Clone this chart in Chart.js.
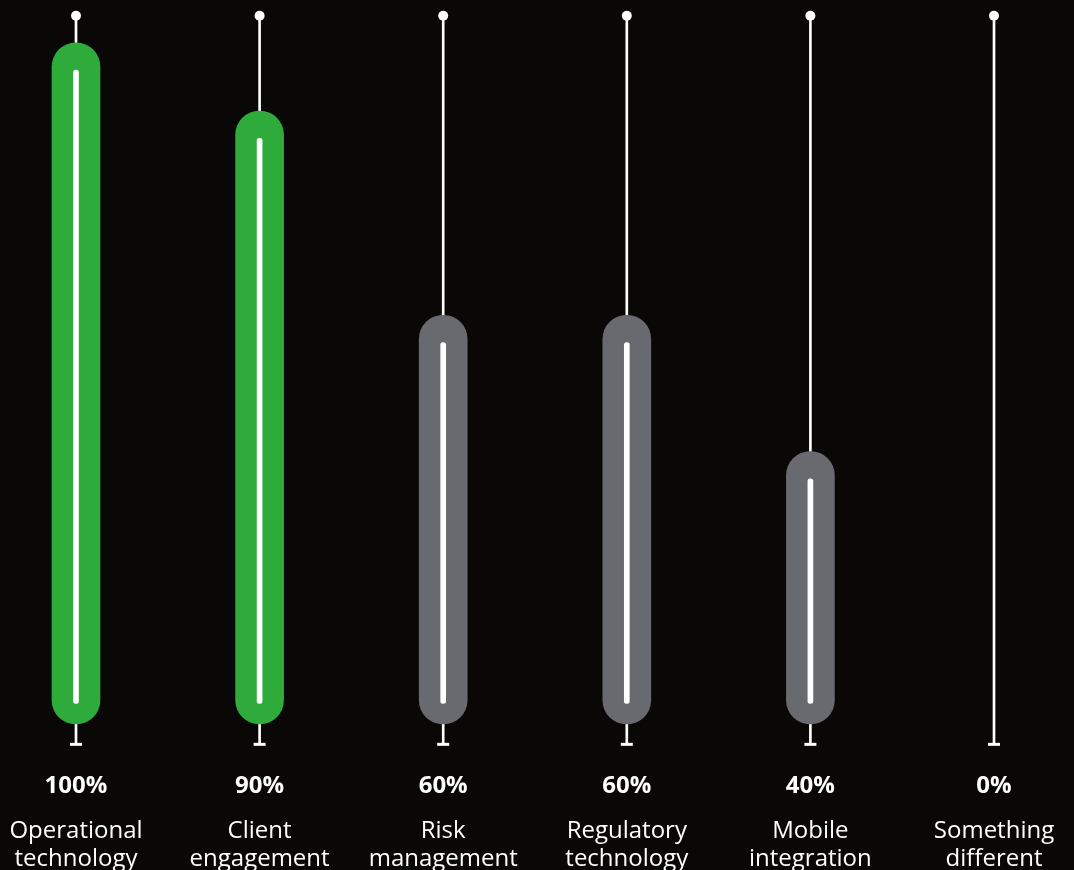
<!DOCTYPE html>
<html>
<head>
<meta charset="utf-8">
<style>
  html, body { margin: 0; padding: 0; background: #0a0707; }
  #c { display: block; }
</style>
<script src="https://cdn.jsdelivr.net/npm/chart.js@4/dist/chart.umd.min.js"></script>
</head>
<body>
<canvas id="c" width="1074" height="870"></canvas>
<script>
// Survey categories (two-line labels) and the share of respondents for each
const categories = [
  ["Operational", "technology"],
  ["Client", "engagement"],
  ["Risk", "management"],
  ["Regulatory", "technology"],
  ["Mobile", "integration"],
  ["Something", "different"]
];
const shares = [100, 90, 60, 60, 40, 0];
const shareLabels = ["100%", "90%", "60%", "60%", "40%", "0%"];
const barColors = ["#2eab3b", "#2eab3b", "#696a70", "#696a70", "#696a70", "#696a70"];

// Each column's guide runs a little past the 0–100 range
const STEM_BOTTOM = -3;
const STEM_TOP = 104;

const WHITE = "#ffffff";
const FONT = "'Open Sans', 'Noto Sans', sans-serif";

// a zero share gets no capsule at all
const capsules = shares.map(v => (v > 0 ? v : null));
const innerLines = shares.map(v => (v > 0 ? [3, v - 4] : null));
const stems = shares.map(() => [STEM_BOTTOM, STEM_TOP]);
const topDots = shares.map(() => STEM_TOP);
const bottomTicks = shares.map(() => STEM_BOTTOM);

new Chart(document.getElementById("c"), {
  type: "bar",
  data: {
    labels: shareLabels,
    datasets: [
      {
        // thin white line inside each capsule
        data: innerLines,
        backgroundColor: WHITE,
        barThickness: 5,
        borderRadius: 2.5,
        borderSkipped: false,
        grouped: false,
        clip: false,
        order: 0
      },
      {
        // rounded value capsule
        data: capsules,
        backgroundColor: barColors,
        barThickness: 48,
        borderRadius: 24,
        borderSkipped: false,
        grouped: false,
        clip: false,
        order: 1
      },
      {
        // vertical guide for every category
        data: stems,
        backgroundColor: WHITE,
        barThickness: 2,
        borderRadius: 0,
        grouped: false,
        clip: false,
        order: 2
      },
      {
        type: "line",
        data: topDots,
        showLine: false,
        pointRadius: 5,
        pointBackgroundColor: WHITE,
        pointBorderWidth: 0,
        clip: false,
        order: 0
      },
      {
        type: "line",
        data: bottomTicks,
        showLine: false,
        pointStyle: "line",
        pointRadius: 6,
        pointBorderColor: WHITE,
        pointBorderWidth: 3,
        clip: false,
        order: 0
      }
    ]
  },
  options: {
    responsive: false,
    animation: false,
    devicePixelRatio: 1,
    layout: {
      autoPadding: false,
      padding: { left: 76, right: 80, top: 0, bottom: 0 }
    },
    plugins: {
      legend: { display: false },
      tooltip: { enabled: false }
    },
    scales: {
      y: {
        display: false,
        min: -5.3,
        max: 106.3
      },
      x: {
        type: "category",
        position: "bottom",
        offset: false,
        grid: { display: false, drawTicks: false },
        border: { display: false },
        ticks: {
          color: WHITE,
          autoSkip: false,
          maxRotation: 0,
          padding: 12,
          font: { family: FONT, size: 24, weight: "bold", lineHeight: 1.2 }
        },
        afterFit: s => { s.height = 50; }
      },
      x2: {
        type: "category",
        position: "bottom",
        labels: categories,
        offset: false,
        grid: { display: false, drawTicks: false },
        border: { display: false },
        ticks: {
          color: WHITE,
          autoSkip: false,
          maxRotation: 0,
          padding: 7,
          font: { family: FONT, size: 24, weight: "normal", lineHeight: 1.17 }
        },
        afterFit: s => { s.height = 60; }
      }
    }
  }
});
</script>
</body>
</html>
